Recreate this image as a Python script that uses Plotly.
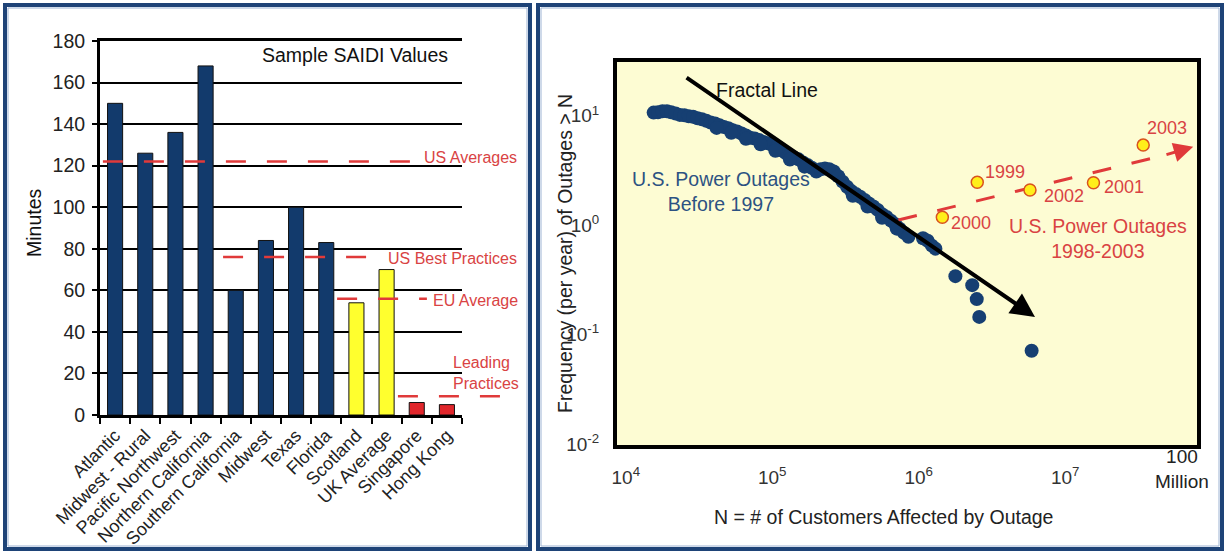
import math
import plotly.graph_objects as go

# ---------------- Left chart data ----------------
categories = ["Atlantic", "Midwest - Rural", "Pacific Northwest", "Northern California",
              "Southern California", "Midwest", "Texas", "Florida", "Scotland",
              "UK Average", "Singapore", "Hong Kong"]
saidi_minutes = [150, 126, 136, 168, 60, 84, 100, 83, 54, 70, 6, 5]
bar_colors = ["#123a6c"] * 8 + ["#ffff2e"] * 2 + ["#e0262b"] * 2

benchmark_labels = ["US Averages", "US Best Practices", "EU Average", "Leading<br>Practices"]
benchmark_values = [122, 76, 56, 9]

# ---------------- Right chart data ----------------
outage_N = [15500, 16600, 17800, 19100, 20400, 21900, 23400, 25100, 26900, 28800,
            30900, 33100, 35500, 38000, 40700, 43600, 46800, 50100, 53700, 57500,
            61700, 66100, 70800, 75900, 81300, 87100, 93300, 100000, 107000, 115000,
            123000, 132000, 141000, 151000, 162000, 174000, 186000, 200000, 214000, 229000,
            245000, 263000, 282000, 302000, 324000, 347000, 372000, 398000, 427000, 457000,
            490000, 525000, 562000, 603000, 646000, 692000, 741000, 794000, 851000,
            1070000, 1150000, 1230000, 1300000,
            1780000, 2320000, 2490000, 2590000, 5900000,
            41700, 52500, 66100, 83200, 105000, 132000, 166000,
            355000, 447000, 562000, 708000]
outage_freq = [10.7, 10.8, 11.0, 11.0, 10.8, 10.5, 10.2, 10.1, 9.9, 9.8,
               9.5, 9.3, 9.0, 8.7, 8.5, 8.2, 7.9, 7.7, 7.4, 7.2,
               6.9, 6.6, 6.3, 6.2, 6.0, 5.75, 5.6, 5.4, 5.1, 4.85,
               4.6, 4.35, 4.15, 4.0, 3.75, 3.55, 3.35, 3.1, 3.25, 3.3,
               3.25, 3.1, 2.8, 2.5, 2.25, 2.05, 1.93, 1.82, 1.7, 1.58,
               1.48, 1.38, 1.26, 1.19, 1.1, 1.02, 0.93, 0.85, 0.785,
               0.76, 0.72, 0.65, 0.61,
               0.342, 0.283, 0.211, 0.145, 0.071,
               7.76, 7.0, 6.17, 5.5, 4.79, 3.98, 3.43,
               1.86, 1.48, 1.17, 0.93]

year_labels = ["2000", "1999", "2002", "2001", "2003"]
year_N = [1450000, 2510000, 5750000, 15600000, 34100000]
year_freq = [1.18, 2.47, 2.10, 2.44, 5.40]
year_label_shift = [(7, -6), (6, 10), (12, -6), (9, -4), (2, 17)]

fractal_N = [25400, 6220000]
fractal_freq = [22.8, 0.145]
trend_N = [726000, 48000000, 74800000]
trend_freq = [1.114, 4.375, 5.21]

x_tick_vals = [1e4, 1e5, 1e6, 1e7]
x_tick_text = ["10<sup>4</sup>", "10<sup>5</sup>", "10<sup>6</sup>", "10<sup>7</sup>"]
y_tick_vals = [0.01, 0.1, 1, 10]
y_tick_text = ["10<sup>-2</sup>", "10<sup>-1</sup>", "10<sup>0</sup>", "10<sup>1</sup>"]
grid_N = [1e5, 1e6, 1e7]

FONT = "Liberation Sans, Arial, sans-serif"
W, H = 1225, 552
RED = "#e03a3a"
RED_TXT = "#d94343"
NAVY_TXT = "#2c5282"

fig = go.Figure()

fig.add_trace(go.Bar(
    x=categories, y=saidi_minutes, marker=dict(color=bar_colors, line=dict(color="#111", width=1)),
    width=0.5, xaxis="x", yaxis="y", showlegend=False))

fig.add_trace(go.Scatter(
    x=outage_N, y=outage_freq, mode="markers", xaxis="x2", yaxis="y2",
    marker=dict(size=14, color="#163f72"), showlegend=False, cliponaxis=False))

fig.add_trace(go.Scatter(
    x=trend_N[:2], y=trend_freq[:2], mode="lines", xaxis="x2", yaxis="y2",
    line=dict(color=RED, width=3, dash="19px,21px"), showlegend=False))

fig.add_trace(go.Scatter(
    x=year_N, y=year_freq, mode="markers", xaxis="x2", yaxis="y2",
    marker=dict(size=12, color="#ffef1a", line=dict(color="#d9531e", width=1.5)),
    showlegend=False))

shapes = []
annotations = []

shapes.append(dict(type="rect", xref="x2 domain", yref="y2 domain", x0=0, x1=1, y0=0, y1=1,
                   fillcolor="#fdfcd3", line=dict(width=0), layer="below"))

bench_extent = [(0.008, 0.862), (0.340, 0.738), (0.655, 0.903), (0.823, 1.105)]
bench_label_x = [0.890, 0.790, 0.915, 0.970]
bench_label_shift = [4, -1, -2, 23]
for val, (a, b), lab, lx, ys in zip(benchmark_values, bench_extent, benchmark_labels,
                                    bench_label_x, bench_label_shift):
    shapes.append(dict(type="line", xref="x domain", yref="y", x0=a, x1=b, y0=val, y1=val,
                       line=dict(color=RED, width=2.5, dash="20px,21px"), layer="above"))
    annotations.append(dict(xref="x domain", yref="y", x=lx, y=val, text=lab, showarrow=False,
                            xanchor="left", yanchor="middle", yshift=ys, align="left",
                            font=dict(family=FONT, size=16, color=RED_TXT)))

for g in grid_N:
    shapes.append(dict(type="line", xref="x2", yref="y2 domain", x0=math.log10(g), x1=math.log10(g),
                       y0=0, y1=1, line=dict(color="#555", width=1), layer="below"))

for x0, x1 in [(5, 530), (538, 1222)]:
    shapes.append(dict(type="rect", xref="paper", yref="paper", x0=x0 / W, x1=x1 / W,
                       y0=1 - 549 / H, y1=1 - 5 / H, line=dict(color="#1e4377", width=4)))
    shapes.append(dict(type="rect", xref="paper", yref="paper", x0=(x0 + 3) / W, x1=(x1 - 3) / W,
                       y0=1 - 546 / H, y1=1 - 8 / H, line=dict(color="#9db3d3", width=1)))

annotations.append(dict(xref="x2", yref="y2", axref="x2", ayref="y2",
                        x=math.log10(fractal_N[1]), y=math.log10(fractal_freq[1]),
                        ax=math.log10(fractal_N[0]), ay=math.log10(fractal_freq[0]),
                        showarrow=True, arrowhead=2, arrowsize=1.2, arrowwidth=4,
                        arrowcolor="#000", text=""))
annotations.append(dict(xref="x2", yref="y2", axref="x2", ayref="y2",
                        x=math.log10(trend_N[2]), y=math.log10(trend_freq[2]),
                        ax=math.log10(trend_N[1]), ay=math.log10(trend_freq[1]),
                        showarrow=True, arrowhead=2, arrowsize=1.3, arrowwidth=3,
                        arrowcolor=RED, text=""))

for lab, n, f, (dx, dy) in zip(year_labels, year_N, year_freq, year_label_shift):
    annotations.append(dict(xref="x2", yref="y2", x=math.log10(n), y=math.log10(f), text=lab,
                            showarrow=False, xanchor="left", yanchor="middle",
                            xshift=dx, yshift=dy, font=dict(family=FONT, size=18, color=RED_TXT)))

def txt(x, y, s, size, color, angle=0, align="center"):
    annotations.append(dict(xref="paper", yref="paper", x=x / W, y=1 - y / H, text=s,
                            showarrow=False, xanchor="center", yanchor="middle",
                            textangle=angle, align=align,
                            font=dict(family=FONT, size=size, color=color)))

txt(355, 55, "Sample SAIDI Values", 19.5, "#111")
txt(34, 223, "Minutes", 19.5, "#111", angle=-90)
txt(767, 90, "Fractal Line", 19.5, "#111")
txt(721, 191, "U.S. Power Outages<br>Before 1997", 19.5, NAVY_TXT)
txt(1098, 238, "U.S. Power Outages<br>1998-2003", 19.5, RED_TXT)
txt(1182, 469, "100<br>Million", 19, "#222")
txt(565, 254, "Frequency (per year) of Outages &gt; N", 19.5, "#222", angle=-90)
txt(883, 517, "N = # of Customers Affected by Outage", 19.5, "#222")

fig.update_layout(
    template="none",
    width=W, height=H, margin=dict(l=0, r=0, t=0, b=0, pad=0), autosize=False,
    paper_bgcolor="white", plot_bgcolor="white",
    font=dict(family=FONT, color="#222"),
    shapes=shapes, annotations=annotations, showlegend=False,
    xaxis=dict(domain=[100 / W, 462 / W], anchor="y", type="category", automargin=False,
               showline=True, mirror=True, linecolor="#000", linewidth=3, showgrid=False,
               zeroline=False,
               ticks="outside", tickson="boundaries", ticklen=6, tickwidth=2, tickcolor="#000",
               tickangle=-45, tickfont=dict(family=FONT, size=18, color="#222")),
    yaxis=dict(domain=[1 - 415 / H, 1 - 41 / H], anchor="x", range=[0, 180], dtick=20, tick0=0,
               automargin=False,
               showline=True, linecolor="#000", linewidth=3, showgrid=True, gridcolor="#000",
               gridwidth=1.5, zeroline=False, ticks="outside", ticklen=5, tickwidth=2,
               tickcolor="#000", ticklabelstandoff=3,
               tickfont=dict(family=FONT, size=19.5, color="#222")),
    xaxis2=dict(domain=[617 / W, 1197 / W], anchor="y2", type="log", range=[3.94, 7.90],
                automargin=False,
                tickvals=x_tick_vals, ticktext=x_tick_text, showgrid=False, zeroline=False,
                showline=True, mirror=True, linecolor="#000", linewidth=4, ticks="",
                ticklabelstandoff=12, tickfont=dict(family=FONT, size=19, color="#333")),
    yaxis2=dict(domain=[1 - 445 / H, 1 - 61.7 / H], anchor="x2", type="log", range=[-2.01, 1.495],
                automargin=False,
                tickvals=y_tick_vals, ticktext=y_tick_text, showgrid=False, zeroline=False,
                showline=True, mirror=True, linecolor="#000", linewidth=4, ticks="",
                ticklabelstandoff=10, tickfont=dict(family=FONT, size=19, color="#333")),
)

fig.write_html("out.html", config={"displayModeBar": False},
               post_script="document.body.style.margin='0';")
